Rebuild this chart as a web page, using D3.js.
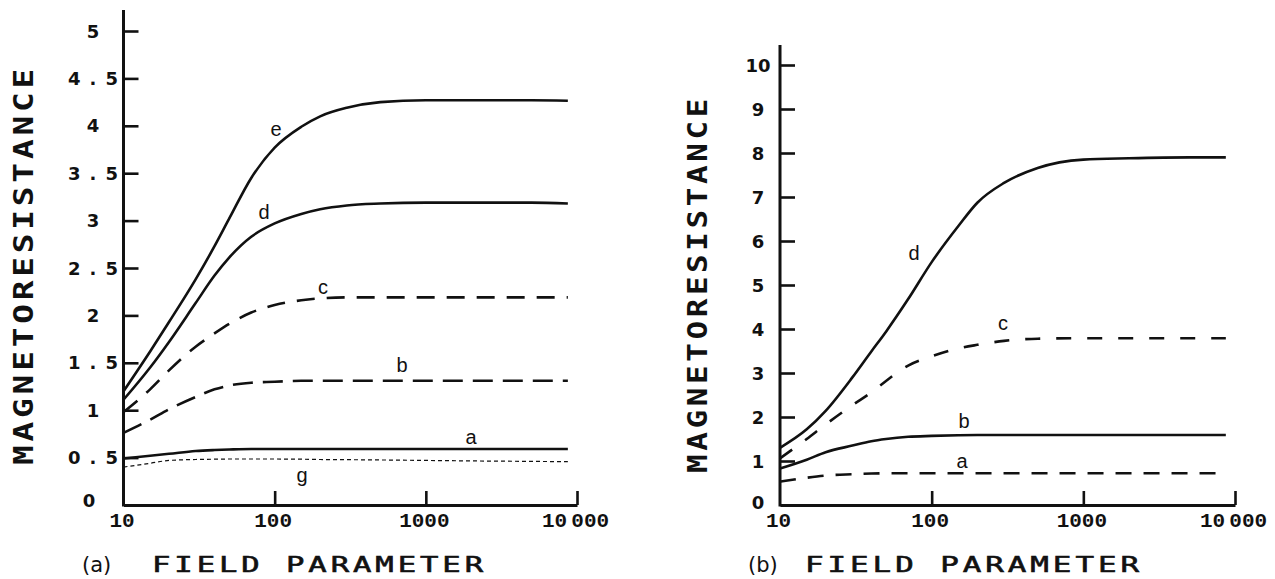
<!DOCTYPE html>
<html>
<head>
<meta charset="utf-8">
<script src="https://cdn.jsdelivr.net/npm/d3@7"></script>
<style>
  body { margin: 0; background: #fff; }
  svg { display: block; }
</style>
</head>
<body>
<svg id="chart" width="1275" height="579"></svg>
<script>
// ---- data -------------------------------------------------------------
// field parameter values shared by every curve
const field = [10, 15, 20, 30, 40, 50, 70, 100, 150, 200, 300, 500, 1000, 2000, 5000, 8700];

// panel (a): magnetoresistance for curves a..g
const aCurveE = [1.20, 1.62, 1.93, 2.38, 2.73, 3.02, 3.45, 3.77, 3.99, 4.10, 4.19, 4.25, 4.27, 4.27, 4.27, 4.265];
const aCurveD = [1.11, 1.45, 1.72, 2.13, 2.42, 2.61, 2.83, 2.97, 3.07, 3.12, 3.16, 3.18, 3.19, 3.19, 3.19, 3.18];
const aCurveC = [0.98, 1.22, 1.42, 1.67, 1.81, 1.91, 2.03, 2.11, 2.16, 2.18, 2.19, 2.19, 2.19, 2.19, 2.19, 2.19];
const aCurveB = [0.76, 0.90, 1.01, 1.14, 1.22, 1.26, 1.29, 1.30, 1.31, 1.31, 1.31, 1.31, 1.31, 1.31, 1.31, 1.31];
const aCurveA = [0.49, 0.52, 0.54, 0.57, 0.58, 0.585, 0.59, 0.59, 0.59, 0.59, 0.59, 0.59, 0.59, 0.59, 0.59, 0.59];
const aCurveG = [0.40, 0.44, 0.47, 0.48, 0.483, 0.485, 0.485, 0.485, 0.483, 0.48, 0.478, 0.475, 0.47, 0.465, 0.46, 0.457];

// panel (b)
const bCurveD = [1.30, 1.72, 2.14, 2.90, 3.49, 3.94, 4.68, 5.52, 6.34, 6.87, 7.32, 7.66, 7.85, 7.88, 7.90, 7.90];
const bCurveC = [1.06, 1.50, 1.83, 2.27, 2.56, 2.82, 3.17, 3.38, 3.56, 3.64, 3.73, 3.78, 3.79, 3.79, 3.79, 3.79];
const bCurveB = [0.83, 1.03, 1.20, 1.35, 1.45, 1.50, 1.55, 1.57, 1.585, 1.59, 1.59, 1.59, 1.59, 1.59, 1.59, 1.59];
const bCurveA = [0.53, 0.62, 0.67, 0.70, 0.715, 0.72, 0.72, 0.72, 0.72, 0.72, 0.72, 0.72, 0.72, 0.72, 0.72, 0.72];

// axis ticks and labels
const xTicks = [10, 100, 1000, 10000];
const xTickLabels = ["10", "100", "1000", "10\u2009000"];
const yTicksA = [0, 0.5, 1, 1.5, 2, 2.5, 3, 3.5, 4, 4.5, 5];
const yTicksB = [0, 1, 2, 3, 4, 5, 6, 7, 8, 9, 10];
const xTitle = "FIELD PARAMETER";
const yTitle = "MAGNETORESISTANCE";

// ---- drawing ----------------------------------------------------------
const svg = d3.select("#chart");
const INK = "#111";

function panel(cfg) {
  const g = svg.append("g");
  const x = d3.scaleLog().domain([10, 10000]).range([cfg.x0, cfg.x1]);
  const y = d3.scaleLinear().domain([0, cfg.yMax]).range([cfg.y0, cfg.yTop]);

  // vertical axis line runs a little above the last tick
  g.append("line")
    .attr("x1", cfg.x0).attr("x2", cfg.x0)
    .attr("y1", cfg.y0 + 1.5).attr("y2", cfg.axisTop)
    .attr("stroke", INK).attr("stroke-width", 3);

  // y ticks point into the plot
  const yAxis = d3.axisLeft(y)
    .tickValues(cfg.yTicks.filter(v => v > 0))
    .tickSizeInner(-15).tickSizeOuter(0)
    .tickFormat("");
  const ya = g.append("g").attr("transform", `translate(${cfg.x0},0)`).call(yAxis);
  ya.select(".domain").remove();
  ya.selectAll(".tick line").attr("stroke", INK).attr("stroke-width", 2.6);

  // y tick labels
  g.append("g").selectAll("text")
    .data(cfg.yTicks)
    .join("text")
    .attr("font-family", "DejaVu Sans, sans-serif")
    .attr("font-weight", "bold")
    .attr("font-size", 18)
    .attr("fill", INK)
    .each(function (v) {
      const t = d3.select(this);
      t.text(String(v));
      if (v === 0) {
        t.attr("x", cfg.zeroX).attr("y", cfg.zeroY).attr("text-anchor", "middle");
      } else if (!Number.isInteger(v)) {
        t.attr("x", cfg.decEnd).attr("y", y(v) + 6.5).attr("text-anchor", "end")
          .attr("textLength", 50).attr("lengthAdjust", "spacing");
      } else {
        t.attr("x", cfg.intMid).attr("y", y(v) + 6.5).attr("text-anchor", "middle");
      }
    });

  // x axis: ticks point up, labels below
  const xAxis = d3.axisBottom(x)
    .tickValues(xTicks)
    .tickSizeInner(-14).tickSizeOuter(0)
    .tickPadding(7)
    .tickFormat((d, i) => xTickLabels[i]);
  const xa = g.append("g").attr("transform", `translate(0,${cfg.y0})`).call(xAxis);
  xa.select(".domain").attr("stroke", INK).attr("stroke-width", 3);
  xa.selectAll(".tick line").attr("stroke", INK).attr("stroke-width", 2.6);
  xa.selectAll(".tick").filter(d => d === 10).select("line").remove();
  xa.selectAll(".tick text")
    .attr("font-family", "Liberation Mono, monospace")
    .attr("font-weight", "bold")
    .attr("font-size", 21)
    .attr("fill", INK)
    .attr("dx", -2);

  // curves
  const line = d3.line()
    .x((d, i) => x(field[i]))
    .y(d => y(d))
    .curve(d3.curveMonotoneX);

  cfg.curves.forEach(c => {
    g.append("path")
      .datum(c.values)
      .attr("d", line)
      .attr("fill", "none")
      .attr("stroke", INK)
      .attr("stroke-width", c.width)
      .attr("stroke-dasharray", c.dash)
      .attr("stroke-linecap", "butt")
      .attr("stroke-linejoin", "round");
    g.append("text")
      .attr("x", c.lx).attr("y", c.ly)
      .attr("text-anchor", "middle")
      .attr("dominant-baseline", "central")
      .attr("font-family", "Liberation Sans, sans-serif")
      .attr("font-size", 20)
      .attr("fill", INK)
      .text(c.name);
  });

  // axis titles in a wide plotter-style lettering
  g.append("text")
    .attr("transform", `translate(${cfg.yTitleX},${cfg.yTitleY}) rotate(-90)`)
    .attr("text-anchor", "middle")
    .attr("font-family", "DejaVu Sans Mono, monospace")
    .attr("font-weight", "bold")
    .attr("font-size", 26)
    .attr("letter-spacing", 3)
    .attr("textLength", cfg.yTitleLen)
    .attr("lengthAdjust", "spacingAndGlyphs")
    .attr("fill", INK)
    .text(yTitle);

  g.append("text")
    .attr("x", cfg.tagX).attr("y", 572)
    .attr("font-family", "DejaVu Sans, sans-serif")
    .attr("font-size", 21)
    .attr("fill", INK)
    .text(cfg.tag);

  g.append("text")
    .attr("x", cfg.xTitleX).attr("y", 572)
    .attr("font-family", "DejaVu Sans Mono, monospace")
    .attr("font-size", 22)
    .attr("letter-spacing", 2.8)
    .attr("textLength", cfg.xTitleLen)
    .attr("lengthAdjust", "spacingAndGlyphs")
    .attr("fill", INK)
    .attr("stroke", INK)
    .attr("stroke-width", 0.6)
    .text(xTitle);
}

panel({
  x0: 123.5, x1: 577, y0: 505, yTop: 31, axisTop: 10, yMax: 5,
  yTicks: yTicksA, intMid: 93, decEnd: 118, zeroX: 89, zeroY: 507,
  yTitleX: 33, yTitleY: 265, yTitleLen: 400,
  tag: "(a)", tagX: 82, xTitleX: 152, xTitleLen: 335,
  curves: [
    { name: "e", values: aCurveE, width: 2.6, dash: null, lx: 276, ly: 129 },
    { name: "d", values: aCurveD, width: 2.6, dash: null, lx: 264, ly: 212 },
    { name: "c", values: aCurveC, width: 2.6, dash: "18 12", lx: 323, ly: 287 },
    { name: "b", values: aCurveB, width: 2.6, dash: "20 10", lx: 402, ly: 365 },
    { name: "a", values: aCurveA, width: 2.6, dash: null, lx: 471, ly: 437 },
    { name: "g", values: aCurveG, width: 1.2, dash: "4 3", lx: 302, ly: 475 }
  ]
});

panel({
  x0: 780, x1: 1235, y0: 505, yTop: 65, axisTop: 45, yMax: 10,
  yTicks: yTicksB, intMid: 758, decEnd: 770, zeroX: 758, zeroY: 509,
  yTitleX: 707, yTitleY: 284, yTitleLen: 378,
  tag: "(b)", tagX: 748, xTitleX: 805, xTitleLen: 338,
  curves: [
    { name: "d", values: bCurveD, width: 2.6, dash: null, lx: 914, ly: 253 },
    { name: "c", values: bCurveC, width: 2.6, dash: "15 16", lx: 1003, ly: 323 },
    { name: "b", values: bCurveB, width: 2.6, dash: null, lx: 964, ly: 421 },
    { name: "a", values: bCurveA, width: 2.6, dash: "16 12", lx: 962, ly: 461 }
  ]
});
</script>
</body>
</html>
